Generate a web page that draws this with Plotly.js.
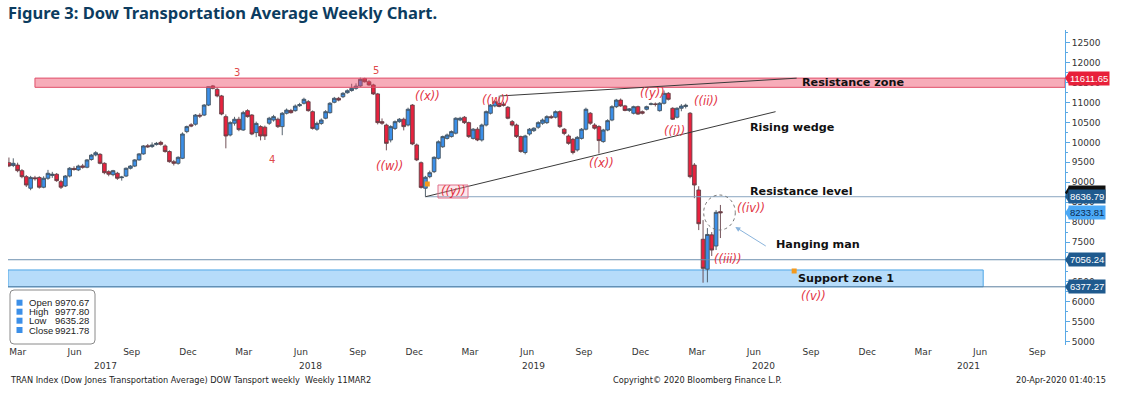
<!DOCTYPE html>
<html><head><meta charset="utf-8">
<script src="https://cdn.plot.ly/plotly-3.0.1.min.js"></script>
<style>html,body{margin:0;padding:0;background:#fff;}#chart{width:1121px;height:398px;}</style>
</head><body><div id="chart"></div>
<script>
// ---------- DATA ----------
const firstWeek = '2017-02-20';   // Monday of first weekly candle
const opens = [
9490,9420,9430,9290,9140,8850,9110,9120,8875,9100,
9170,9200,9015,8905,9155,9345,9310,9410,9375,9570,
9685,9700,9475,9265,9190,9225,9115,9155,9350,9405,
9560,9710,9915,9895,9945,10000,9910,9770,9515,9475,
9600,10270,10440,10455,10680,10685,10935,11415,11330,11165,
10645,10185,10480,10580,10310,10795,10685,10245,10395,10380,
10480,10560,10580,10395,10730,10800,10795,10920,10980,11020,
10770,10330,10475,10605,10745,11005,11105,11145,11245,11300,
11355,11415,11600,11520,11440,11215,10520,10435,10060,10350,
10520,10580,10435,10935,9935,9490,8850,9140,9265,9600,
9890,10100,10145,10230,10560,10630,10495,10100,10330,10060,
10435,10730,10915,10980,10960,10880,10520,10435,10145,9745,
10210,10295,10380,10480,10495,10645,10630,10770,10330,10160,
10075,9810,10100,10330,10730,10435,10395,10020,10310,10560,
10895,11060,10915,10800,10730,10895,10770,10830,10955,10965,
10795,10980,11230,10855,10630,10855,10900,10730,9430,8805,
7570,6820,7680,7400,8262];
const highs = [
9620,9600,9490,9330,9180,9160,9160,9150,9150,9310,
9260,9230,9060,9180,9380,9400,9440,9460,9580,9710,
9780,9730,9500,9300,9310,9260,9160,9370,9430,9580,
9730,9930,9960,10000,10010,10040,9950,9800,9560,9650,
10250,10420,10480,10710,10730,10960,11400,11440,11370,11190,
10700,10530,10640,10640,10790,10830,10710,10520,10430,10420,
10640,10690,10620,10760,10850,10840,10950,10990,11120,11060,
10800,10520,10600,10810,11010,11140,11140,11260,11330,11470,
11480,11623,11620,11560,11470,11240,10600,10470,10430,10550,
10610,10620,10870,10960,9970,9520,9160,9290,9650,10050,
10170,10220,10300,10630,10640,10660,10520,10360,10380,10470,
10800,10960,11060,11170,11020,10910,10560,10470,10170,10190,
10360,10380,10530,10600,10680,10690,10800,10800,10360,10200,
10110,10160,10360,10870,10760,10480,10430,10340,10580,10930,
11090,11100,10940,10860,10920,10920,10800,10920,11000,11000,
11010,11300,11260,10880,10880,10960,10970,10760,9480,8900,
8050,7850,7750,8300,8430];
const lows = [
9380,9380,9250,9100,8880,8800,9040,8840,8850,9060,
9110,9010,8830,8880,9120,9290,9280,9340,9350,9540,
9650,9450,9200,9150,9150,9060,9040,9130,9320,9380,
9540,9690,9860,9860,9920,9920,9740,9490,9420,9440,
9580,10230,10380,10420,10610,10660,10910,11330,11130,10680,
9850,10150,10420,10280,10290,10620,10180,10130,10050,10060,
10440,10520,10360,10180,10700,10720,10770,10890,10950,10770,
10320,10290,10440,10580,10720,10980,11030,11110,11220,11270,
11320,11390,11500,11420,11190,10450,10440,9800,10000,10310,
10490,10300,10400,9930,9530,8840,8637,9100,9230,9570,
9860,10070,10120,10200,10530,10460,10110,10070,10030,10020,
10400,10700,10880,10880,10900,10580,10400,10110,9740,9700,
10170,10260,10340,10440,10460,10590,10600,10360,10180,9940,
9700,9770,10070,10300,10440,10320,9720,9990,10280,10530,
10860,10890,10780,10760,10700,10690,10700,10800,10930,10900,
10770,10950,11050,10560,10600,10780,10850,9100,8600,7800,
6480,6490,7150,7300,7600];
const closes = [
9410,9475,9290,9140,8930,9120,9090,8875,9100,9225,
9200,9040,8875,9155,9350,9320,9405,9375,9560,9680,
9740,9475,9240,9200,9290,9100,9130,9350,9405,9560,
9710,9910,9890,9935,9975,9950,9770,9515,9475,9625,
10210,10395,10410,10685,10660,10935,11395,11355,11165,10710,
10160,10495,10580,10320,10745,10645,10210,10475,10160,10160,
10605,10645,10395,10730,10810,10745,10910,10945,11080,10795,
10350,10475,10560,10770,10980,11105,11060,11230,11295,11355,
11410,11580,11520,11440,11215,10495,10480,9975,10395,10520,
10580,10395,10830,9960,9560,8870,9125,9240,9625,10015,
10145,10185,10270,10605,10605,10495,10145,10330,10060,10435,
10770,10935,11020,10900,10930,10605,10435,10145,9770,10160,
10330,10355,10495,10560,10645,10620,10770,10395,10225,9975,
9745,10125,10330,10830,10480,10355,10045,10310,10545,10895,
11060,10915,10800,10840,10895,10710,10730,10895,10965,10950,
10980,11230,11080,10580,10855,10910,10930,9140,8930,7960,
6840,7690,7300,8245,8233.81];

const monthTickDates = ['2017-03-06','2017-06-06','2017-09-06','2017-12-06','2018-03-06','2018-06-06','2018-09-06','2018-12-06',
  '2019-03-06','2019-06-06','2019-09-06','2019-12-06','2020-03-06','2020-06-06','2020-09-06','2020-12-06','2021-03-06','2021-06-06','2021-09-06'];
const monthTickLabels = ['Mar','Jun','Sep','Dec','Mar','Jun','Sep','Dec','Mar','Jun','Sep','Dec','Mar','Jun','Sep','Dec','Mar','Jun','Sep'];
const yearLabels = ['2017','2018','2019','2020','2021'];

const resistanceZone = [11380, 11611.65];
const supportZone = [6377.27, 6800];
const levelValues = [8636.79, 7056.24, 6377.27];
const wedgeLower = {x:['2018-12-24','2020-07-11'], y:[8636.79, 10770]};
const wedgeUpper = {x:['2019-04-23','2020-08-14'], y:[11163, 11610]};
const hangingCircle = {x:['2020-03-17','2020-05-07'], y:[7802, 8680]};
const orangeDates = ['2018-12-27','2020-08-10'];
const orangeVals = [8956, 6774];
const tagValues = [11611.65, 8745.73, 8636.79, 8233.81, 7056.24, 6377.27];
const tagTexts  = ['11611.65','8745.73','8636.79','8233.81','7056.24','6377.27'];
const legendNames = ['Open','High','Low','Close'];
const legendValues = ['9970.67','9977.80','9635.28','9921.78'];

// ---------- GEOMETRY HELPERS (pixel -> paper) ----------
const PL = 8, PR = 1065, PT = 30, PB = 345;
const xStart = '2017-02-18 12:00', xEnd = '2021-10-21';
const px = x => (x - PL) / (PR - PL);
const py = y => (PB - y) / (PB - PT);

const dates = opens.map((_, i) => {
  const d = new Date(Date.parse(firstWeek + 'T00:00:00Z') + i * 7 * 86400000);
  return d.toISOString().slice(0, 10);
});

const candle = {
  type: 'candlestick', x: dates, open: opens, high: highs, low: lows, close: closes,
  increasing: {fillcolor: '#3b8fe8', line: {color: '#44525f', width: 0.9}},
  decreasing: {fillcolor: '#e8223e', line: {color: '#634046', width: 0.9}},
  whiskerwidth: 0, hoverinfo: 'skip', showlegend: false
};
const orange = {
  type: 'scatter', mode: 'markers', x: orangeDates, y: orangeVals,
  marker: {symbol: 'square', size: 5, color: '#f39a1e'}, hoverinfo: 'skip', showlegend: false
};

const shapes = [
  {type:'rect', xref:'x', yref:'y', x0:xStart, x1:'2021-06-11', y0:supportZone[0], y1:supportZone[1],
   fillcolor:'rgba(110,185,245,0.5)', line:{color:'#4ea6e6', width:1}, layer:'below'},
  {type:'line', xref:'x', yref:'y', x0:'2018-12-24', x1:xEnd, y0:levelValues[0], y1:levelValues[0], line:{color:'#8aa6c0', width:1}},
  {type:'line', xref:'x', yref:'y', x0:xStart, x1:xEnd, y0:levelValues[1], y1:levelValues[1], line:{color:'#6d8fae', width:1}},
  {type:'line', xref:'x', yref:'y', x0:xStart, x1:xEnd, y0:levelValues[2], y1:levelValues[2], line:{color:'#5c7f9e', width:1}},
  {type:'rect', xref:'x', yref:'y', x0:'2017-04-03', x1:xEnd, y0:resistanceZone[0], y1:resistanceZone[1],
   fillcolor:'rgba(238,70,100,0.45)', line:{color:'#e0506a', width:1}, layer:'above'},
  {type:'line', xref:'x', yref:'y', x0:wedgeLower.x[0], x1:wedgeLower.x[1], y0:wedgeLower.y[0], y1:wedgeLower.y[1], line:{color:'#3a3a3a', width:1}},
  {type:'line', xref:'x', yref:'y', x0:wedgeUpper.x[0], x1:wedgeUpper.x[1], y0:wedgeUpper.y[0], y1:wedgeUpper.y[1], line:{color:'#3a3a3a', width:1}},
  {type:'circle', xref:'x', yref:'y', x0:hangingCircle.x[0], x1:hangingCircle.x[1], y0:hangingCircle.y[0], y1:hangingCircle.y[1],
   line:{color:'#777', width:1, dash:'dot'}},
  // pink box around ((y))
  {type:'rect', xref:'paper', yref:'paper', x0:px(438), x1:px(468), y0:py(198), y1:py(185),
   fillcolor:'rgba(245,160,175,0.25)', line:{color:'#e0708a', width:1}},
];

// legend box (rounded)
(function(){
  const x0=10, x1=95, y0=290, y1=344, r=4;
  const X = v => px(v), Y = v => py(v);
  const p = `M ${X(x0+r)} ${Y(y0)} L ${X(x1-r)} ${Y(y0)} Q ${X(x1)} ${Y(y0)} ${X(x1)} ${Y(y0+r)} L ${X(x1)} ${Y(y1-r)} Q ${X(x1)} ${Y(y1)} ${X(x1-r)} ${Y(y1)} L ${X(x0+r)} ${Y(y1)} Q ${X(x0)} ${Y(y1)} ${X(x0)} ${Y(y1-r)} L ${X(x0)} ${Y(y0+r)} Q ${X(x0)} ${Y(y0)} ${X(x0+r)} ${Y(y0)} Z`;
  shapes.push({type:'path', xref:'paper', yref:'paper', path:p, fillcolor:'#fff', line:{color:'#8a8a8a', width:1}, layer:'above'});
})();
const legendRowY = [302.7, 311.7, 320.7, 330];
legendRowY.forEach(y => shapes.push({type:'rect', xref:'paper', yref:'paper', x0:px(16.5), x1:px(22.5), y0:py(y+3), y1:py(y-3),
  fillcolor:'#3b8fe8', line:{width:0}, layer:'above'}));

// tag pointers
const tagColors = ['#e8203a','#111111','#1f5a8e','#4aa8f5','#1f5a8e','#1f5a8e'];
const tagFont = ['#ffffff','#ffffff','#ffffff','#0b2a50','#ffffff','#ffffff'];
tagValues.forEach((v, i) => {
  const dx = 4/(PR-PL), dv = 6/0.03987;
  shapes.push({type:'path', xref:'paper', yref:'y', path:`M 1 ${v} L ${1+dx} ${v+dv} L ${1+dx} ${v-dv} Z`,
    fillcolor: tagColors[i], line:{width:0}, layer:'above'});
});

// ---------- ANNOTATIONS ----------
const ann = [];
const T = (text, x, y, font, extra) => ann.push(Object.assign({xref:'paper', yref:'paper', x:px(x), y:py(y), text,
  showarrow:false, xanchor:'center', yanchor:'middle', font}, extra||{}));

const redIt = {family:'DejaVu Sans', size:11.5, color:'#e2313f', style:'italic'};
const redN = {family:'DejaVu Sans', size:10, color:'#e04a4a'};
const blk = {family:'DejaVu Sans', size:11.2, color:'#111', weight:700};
T('3', 237, 73, redN); T('5', 376, 70, redN); T('4', 272, 159, redN);
T('((x))', 427, 96, redIt); T('((w))', 389, 166, redIt); T('((y))', 453, 191, redIt);
T('((w))', 495, 100, redIt); T('((y))', 652, 93, redIt); T('((ii))', 706, 101, redIt);
T('((i))', 674, 131, redIt); T('((x))', 601, 163, redIt); T('((iv))', 751, 208, redIt);
T('((iii))', 728, 259, redIt); T('((v))', 813, 296, redIt);

T('Resistance zone', 800, 83, blk, {xanchor:'left'});
T('Rising wedge', 748, 127, blk, {xanchor:'left'});
T('Resistance level', 748, 191, blk, {xanchor:'left'});
T('Hanging man', 774, 244, blk, {xanchor:'left'});
T('Support zone 1', 796, 278, blk, {xanchor:'left'});

// arrow to hanging man
ann.push({xref:'x', yref:'y', x:'2020-05-07', y:7878, ax:32, ay:20, text:'', showarrow:true,
  arrowhead:2, arrowsize:1, arrowwidth:1, arrowcolor:'#8ab4dc', standoff:0});

// legend texts
const lf = {family:'Liberation Sans', size:9.5, color:'#222'};
legendNames.forEach((n, i) => T(n, 27, legendRowY[i], lf, {xanchor:'left'}));
legendValues.forEach((v, i) => T(v, 91, legendRowY[i], lf, {xanchor:'right'}));

// price tags
tagValues.forEach((v, i) => ann.push({xref:'paper', yref:'y', x:1, y:v, xanchor:'left', yanchor:'middle', xshift:3,
  text:tagTexts[i], showarrow:false, bgcolor:tagColors[i], borderpad:1,
  font:{family:'Liberation Sans', size:9.5, color:tagFont[i]}}));

// year labels and footer
const yearPx = [105, 310, 533, 763, 968];
const axf = {family:'DejaVu Sans', size:9, color:'#333'};
yearLabels.forEach((t, i) => T(t, yearPx[i], 366, axf));
const ff = {family:'DejaVu Sans', size:8.2, color:'#222'};
T('TRAN Index (Dow Jones Transportation Average) DOW Tansport weekly\u00a0\u00a0Weekly 11MAR2', 8, 380, ff, {xanchor:'left'});
T('Copyright\u00a9 2020 Bloomberg Finance L.P.', 611, 380, ff, {xanchor:'left'});
T('20-Apr-2020 01:40:15', 1108, 380, ff, {xanchor:'right'});

// ---------- LAYOUT ----------
const layout = {
  width:1121, height:398, paper_bgcolor:'#fff', plot_bgcolor:'#fff',
  margin:{l:PL, r:1121-PR, t:PT, b:398-PB, pad:0},
  title:{text:'Figure 3: Dow Transportation Average Weekly Chart.', xref:'container', yref:'container',
    x:8/1121, xanchor:'left', y:1-13/398, yanchor:'middle',
    font:{family:'Noto Sans', size:16.5, color:'#0c3c60', weight:700}},
  showlegend:false, boxgap:0.12, boxgroupgap:0.04,
  xaxis:{type:'date', range:[xStart, xEnd], rangeslider:{visible:false}, showgrid:false, zeroline:false,
    showline:false, ticks:'', tickvals:monthTickDates, ticktext:monthTickLabels, tickfont:axf, fixedrange:true},
  yaxis:{side:'right', range:[4918, 12818], dtick:500, tick0:0, tickformat:'d', showgrid:false, zeroline:false,
    showline:true, linecolor:'#5aa9e6', linewidth:1, ticks:'outside', ticklen:4, tickcolor:'#5aa9e6',
    minor:{dtick:250, ticks:'outside', ticklen:2, tickcolor:'#5aa9e6'},
    tickfont:{family:'DejaVu Sans', size:9, color:'#333'}, fixedrange:true},
  shapes, annotations: ann
};
Plotly.newPlot('chart', [candle, orange], layout, {staticPlot:true, displayModeBar:false});
</script></body></html>
